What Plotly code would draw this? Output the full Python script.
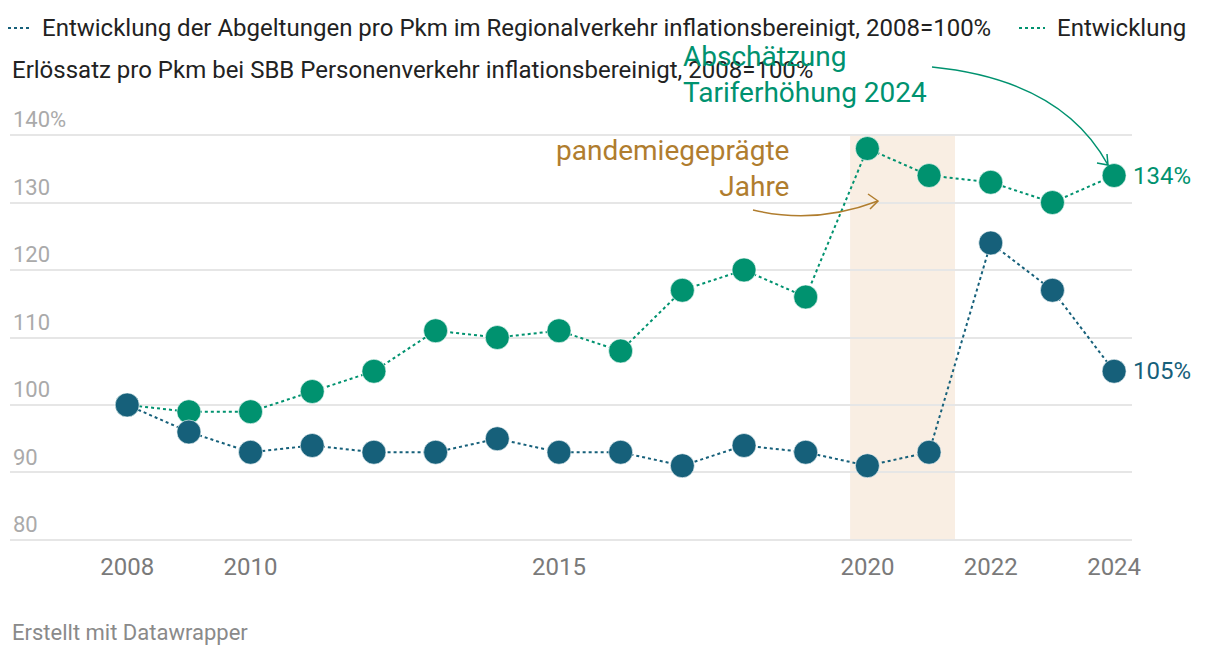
import plotly.graph_objects as go

years = list(range(2008, 2025))
abgeltungen = [100, 96, 93, 94, 93, 93, 95, 93, 93, 91, 94, 93, 91, 93, 124, 117, 105]
erloessatz = [100, 99, 99, 102, 105, 111, 110, 111, 108, 117, 120, 116, 138, 134, 133, 130, 134]

x_tickvals = [2008, 2010, 2015, 2020, 2022, 2024]
y_tickvals = [80, 90, 100, 110, 120, 130, 140]
y_ticktext = ["80", "90", "100", "110", "120", "130", "140%"]

pandemic_start, pandemic_end = 2019.72, 2021.42

BLUE = "#16607a"
GREEN = "#00926f"
BROWN = "#b07d2e"
FONT = "Roboto"

OFF = 8  # page body margin
W, H = 1212, 648
L, R, T, B = 2, 88, 125, 114
PW, PH = W - L - R, H - T - B


def px(xs):
    return (xs - OFF - L) / PW


def py(ys):
    return (H - B - (ys - OFF)) / PH


fig = go.Figure()

fig.add_trace(go.Scatter(
    x=years, y=erloessatz, mode="lines+markers",
    line=dict(color=GREEN, width=2, dash="dot"),
    marker=dict(color=GREEN, size=24, line=dict(color="rgba(255,255,255,0.6)", width=1)),
    showlegend=False, hoverinfo="x+y"))
fig.add_trace(go.Scatter(
    x=years, y=abgeltungen, mode="lines+markers",
    line=dict(color=BLUE, width=2, dash="dot"),
    marker=dict(color=BLUE, size=24, line=dict(color="rgba(255,255,255,0.6)", width=1)),
    showlegend=False, hoverinfo="x+y"))

shapes = [
    dict(type="rect", xref="x", yref="y", x0=pandemic_start, x1=pandemic_end, y0=80, y1=140,
         fillcolor="#f9eee3", line=dict(width=0), layer="below"),
    # legend keys
    dict(type="line", xref="paper", yref="paper", x0=px(8), x1=px(32), y0=py(28), y1=py(28),
         line=dict(color=BLUE, width=2, dash="dot")),
    dict(type="line", xref="paper", yref="paper", x0=px(1019), x1=px(1045), y0=py(28), y1=py(28),
         line=dict(color=GREEN, width=2, dash="dot")),
    # green curved arrow
    dict(type="path", xref="paper", yref="paper",
         path=f"M {px(932)},{py(67)} Q {px(1062)},{py(80)} {px(1108)},{py(165)}",
         line=dict(color=GREEN, width=1.5)),
    dict(type="path", xref="paper", yref="paper",
         path=f"M {px(1097)},{py(163)} L {px(1108)},{py(165)} L {px(1107)},{py(154)}",
         line=dict(color=GREEN, width=1.5)),
    # brown curved arrow
    dict(type="path", xref="paper", yref="paper",
         path=f"M {px(753)},{py(210)} Q {px(815)},{py(225)} {px(878)},{py(201)}",
         line=dict(color=BROWN, width=1.5)),
    dict(type="path", xref="paper", yref="paper",
         path=f"M {px(868)},{py(194)} L {px(878)},{py(201)} L {px(870)},{py(209)}",
         line=dict(color=BROWN, width=1.5)),
]

annotations = [
    dict(xref="paper", yref="paper", x=px(40), y=py(28), xanchor="left", yanchor="middle",
         text="Entwicklung der Abgeltungen pro Pkm im Regionalverkehr inflationsbereinigt, 2008=100%",
         showarrow=False, font=dict(family=FONT, size=24, color="#222222")),
    dict(xref="paper", yref="paper", x=px(1055), y=py(28), xanchor="left", yanchor="middle",
         text="Entwicklung", showarrow=False, font=dict(family=FONT, size=24, color="#222222")),
    dict(xref="paper", yref="paper", x=px(10), y=py(70), xanchor="left", yanchor="middle",
         text="Erlössatz pro Pkm bei SBB Personenverkehr inflationsbereinigt, 2008=100%",
         showarrow=False, font=dict(family=FONT, size=24, color="#222222")),
    dict(xref="paper", yref="paper", x=px(681), y=py(74), xanchor="left", yanchor="middle",
         text="Abschätzung<br>Tariferhöhung 2024", align="left", showarrow=False,
         font=dict(family=FONT, size=28, color=GREEN)),
    dict(xref="paper", yref="paper", x=px(791), y=py(168), xanchor="right", yanchor="middle",
         text="pandemiegeprägte<br>Jahre", align="right", showarrow=False,
         font=dict(family=FONT, size=28, color=BROWN)),
    dict(xref="x", yref="y", x=years[-1], y=erloessatz[-1], xanchor="left", yanchor="middle",
         xshift=17, text=f"{erloessatz[-1]}%", showarrow=False,
         font=dict(family=FONT, size=24, color=GREEN)),
    dict(xref="x", yref="y", x=years[-1], y=abgeltungen[-1], xanchor="left", yanchor="middle",
         xshift=17, text=f"{abgeltungen[-1]}%", showarrow=False,
         font=dict(family=FONT, size=24, color=BLUE)),
    dict(xref="paper", yref="paper", x=px(10), y=py(632), xanchor="left", yanchor="middle",
         text="Erstellt mit Datawrapper", showarrow=False,
         font=dict(family=FONT, size=22, color="#8a8a8a")),
]

fig.update_layout(
    width=W, height=H,
    margin=dict(l=L, r=R, t=T, b=B, autoexpand=False),
    paper_bgcolor="white", plot_bgcolor="white",
    font=dict(family=FONT),
    shapes=shapes, annotations=annotations,
    xaxis=dict(range=[2006.1, 2024.29], tickvals=x_tickvals, ticktext=[str(v) for v in x_tickvals],
               showgrid=False, zeroline=False, showline=False, ticks="", ticklabelstandoff=8,
               tickfont=dict(family=FONT, size=24, color="#7a7a7a"), fixedrange=True),
    yaxis=dict(range=[79.7, 140.3], tickvals=y_tickvals, ticktext=y_ticktext,
               showgrid=True, gridcolor="#e6e6e6", gridwidth=1.5, zeroline=False, showline=False,
               ticks="", ticklabelposition="inside top", ticklabeloverflow="allow",
               tickfont=dict(family=FONT, size=22, color="#aaaaaa"), fixedrange=True),
    showlegend=False,
)

fig.write_html("out.html")
